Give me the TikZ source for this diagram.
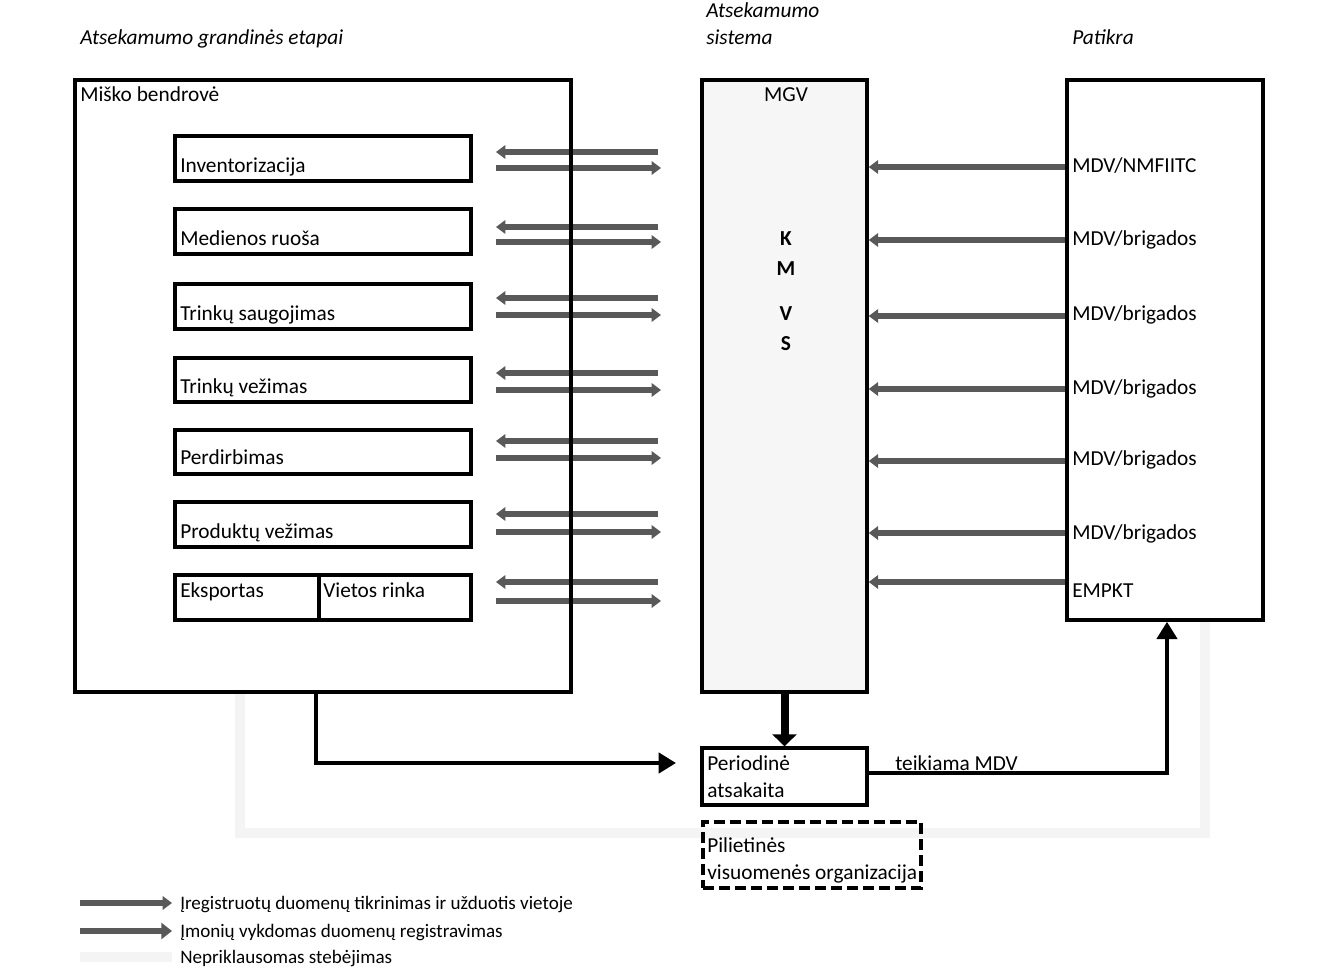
\documentclass[tikz,border=0pt]{standalone}
\usepackage{fontspec}
\setmainfont{Carlito}
\usetikzlibrary{arrows.meta,fit}
\definecolor{dg}{HTML}{595959}
\definecolor{lg}{HTML}{F4F4F4}
\definecolor{mfill}{HTML}{F6F6F6}
\begin{document}
\begin{tikzpicture}[x=0.75pt,y=-0.75pt,
  box/.style={draw=black, line width=2.6pt, inner sep=0pt},
  txt/.style={anchor=base west, inner sep=0pt, font=\fontsize{16}{19}\selectfont},
  ctxt/.style={anchor=base, inner sep=0pt, font=\fontsize{16}{19}\selectfont},
  ttl/.style={anchor=base west, inner sep=0pt, font=\fontsize{16}{19}\selectfont\itshape},
  ltxt/.style={anchor=base west, inner sep=0pt, font=\fontsize{14.3}{17}\selectfont},
  garrow/.style={draw=dg, line width=5pt, -{Triangle[length=7pt,width=10pt]}},
  blk/.style={draw=black, line width=3.5pt, -{Triangle[length=13pt,width=15pt]}},
  indep/.style={draw=lg, line width=8pt}
]
\useasboundingbox (0,0) rectangle (1339,970);

% independent monitoring (light gray)
\draw[indep] (240,692) -- (240,833) -- (1205,833) -- (1205,620);

% paired arrows between company and system
\foreach \yl/\yr [count=\i] in {152/168,227/242,298/315,373/390,441/458,514/532,582/601}{
  \coordinate (pl\i a) at (658,\yl);
  \coordinate (pl\i b) at (496,\yl);
  \coordinate (pr\i a) at (496,\yr);
  \coordinate (pr\i b) at (661,\yr);
  \draw[garrow] (pl\i a) -- (pl\i b);
  \draw[garrow] (pr\i a) -- (pr\i b);
}

% titles
\node[ttl] (t1) at (80,45) {Atsekamumo grandinės etapai};
\node[ttl] (t2) at (706,18) {Atsekamumo};
\node[ttl] (t3) at (706,45) {sistema};
\node[ttl] (t4) at (1072,45) {Patikra};

% left company box
\node[box, fit={(75,80) (571,692)}] (lb) {};
\node[txt] (lbt) at (80,102) {Miško bendrovė};

\node[box, fit={(175,136) (471,181)}] (b1) {};
\node[txt] at (180,173) {Inventorizacija};
\node[box, fit={(175,209) (471,254)}] (b2) {};
\node[txt] at (180,245) {Medienos ruoša};
\node[box, fit={(175,284) (471,329)}] (b3) {};
\node[txt] at (180,320) {Trinkų saugojimas};
\node[box, fit={(175,358) (471,402)}] (b4) {};
\node[txt] at (180,393) {Trinkų vežimas};
\node[box, fit={(175,430) (471,474)}] (b5) {};
\node[txt] at (180,464) {Perdirbimas};
\node[box, fit={(175,502) (471,547)}] (b6) {};
\node[txt] at (180,538) {Produktų vežimas};
\node[box, fit={(175,575) (319,620)}] (b7) {};
\node[box, fit={(319,575) (471,620)}] (b8) {};
\node[txt] at (180,597) {Eksportas};
\node[txt] at (323,597) {Vietos rinka};

% middle system box
\node[box, fill=mfill, fit={(702,80) (867,692)}] (mb) {};
\node[ctxt] (mgv) at (786,102) {MGV};
\node[ctxt, font=\fontsize{16}{19}\selectfont\bfseries] at (786,245) {K};
\node[ctxt, font=\fontsize{16}{19}\selectfont\bfseries] at (786,275) {M};
\node[ctxt, font=\fontsize{16}{19}\selectfont\bfseries] at (786,320) {V};
\node[ctxt, font=\fontsize{16}{19}\selectfont\bfseries] at (786,350) {S};

% right verification box
\node[box, fit={(1067,80) (1263,620)}] (rb) {};
\foreach \y/\lab [count=\i] in {166/MDV\slash NMFIITC,238/MDV\slash brigados,313/MDV\slash brigados,387/MDV\slash brigados,458/MDV\slash brigados,532/MDV\slash brigados,590/EMPKT}{
  \node[txt] (rl\i) at (1072,\y+7) {\lab};
}
\foreach \y in {167,240,316,389,461,533,582}{
  \draw[garrow] (rb.west |- 0,\y) -- (mb.east |- 0,\y);
}

% periodic report
\node[box, fit={(702,748) (867,805)}] (pa) {};
\node[txt] at (707,770) {Periodinė};
\node[txt] at (707,797) {atsakaita};

% civil society
\node[draw=black, line width=2.8pt, dash pattern=on 8pt off 4pt, inner sep=0pt, fit={(703,822) (921,888)}] (pv) {};
\node[txt] at (707,852) {Pilietinės};
\node[txt] at (707,879) {visuomenės organizacija};

% black connectors
\draw[draw=black, line width=6pt, -{Triangle[length=9pt,width=18pt]}] (mb.south) -- (pa.north);
\coordinate (lbout) at (316,692);
\coordinate (lbturn) at (316,763);
\coordinate (paend) at (676,763);
\draw[blk] (lbout) -- (lbturn) -- (paend);
\coordinate (rbturn) at (1167,773);
\draw[blk] (pa.east |- 0,773) -- (rbturn) -- (rb.south -| rbturn);
\node[txt] (tm) at (895,770) {teikiama MDV};

% legend
\coordinate (l1a) at (80,903); \coordinate (l1b) at (172,903);
\coordinate (l2a) at (80,931); \coordinate (l2b) at (172,931);
\coordinate (l3a) at (80,957); \coordinate (l3b) at (172,957);
\draw[garrow] (l1a) -- (l1b);
\draw[draw=dg, line width=5pt, -{Triangle[length=8pt,width=12pt]}] (l2a) -- (l2b);
\draw[indep] (l3a) -- (l3b);
\node[ltxt] at (180,909) {Įregistruotų duomenų tikrinimas ir užduotis vietoje};
\node[ltxt] at (180,937) {Įmonių vykdomas duomenų registravimas};
\node[ltxt] at (180,963) {Nepriklausomas stebėjimas};
\end{tikzpicture}
\end{document}
